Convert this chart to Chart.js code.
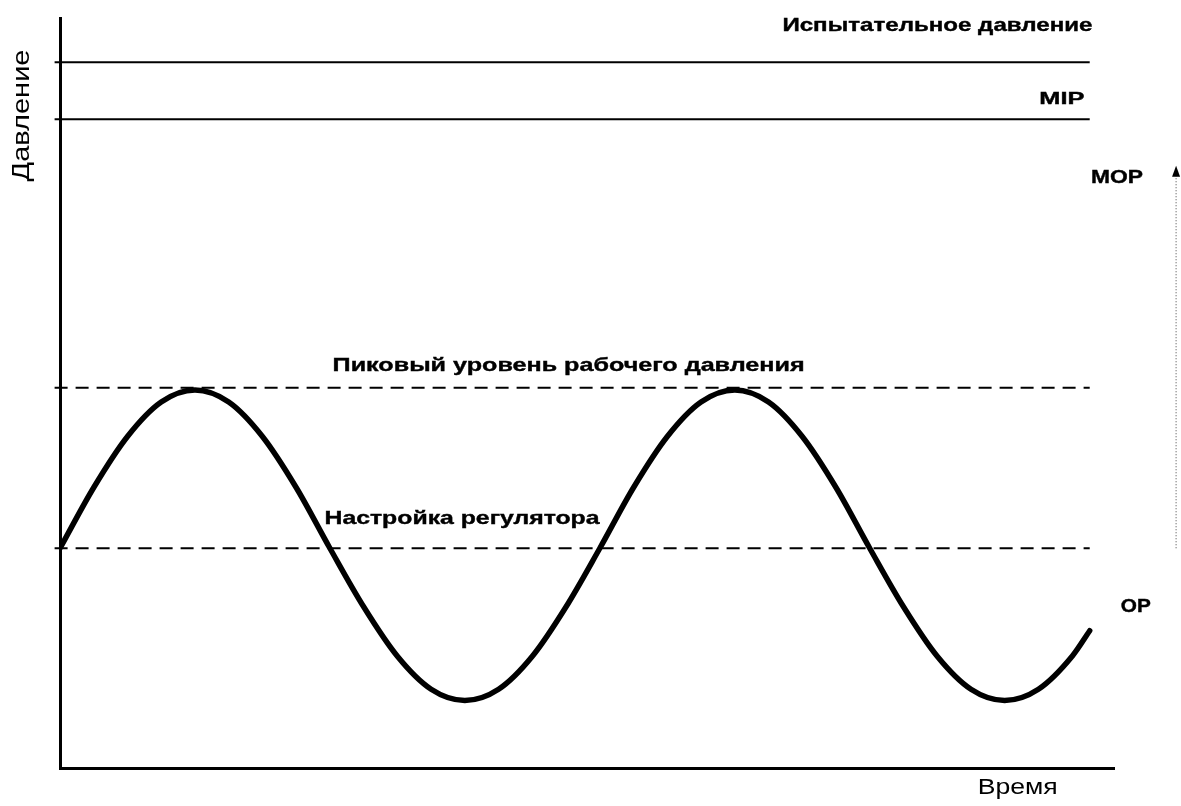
<!DOCTYPE html>
<html><head><meta charset="utf-8">
<script src="https://cdn.jsdelivr.net/npm/chart.js@4/dist/chart.umd.min.js"></script>
<style>html,body{margin:0;padding:0;background:#fff;}canvas{display:block;}</style>
</head><body>
<canvas id="c" width="1181" height="806"></canvas>
<script>
// ---- data ----
const timePoints = [0, 2.5, 5, 7.5, 10, 12.5, 15, 17.5, 20, 22.5, 25, 27.5, 30, 32.5, 35, 37.5,
                    40, 42.5, 45, 47.5, 50, 52.5, 55, 57.5, 60, 62.5, 65, 67.5, 70, 72.5, 75, 76.3];
const pressureValues = [29.3, 37.4, 44.2, 48.8, 50.4, 48.8, 44.2, 37.4, 29.3, 21.5, 14.9, 10.5, 9.0, 10.5, 14.9, 21.5,
                        29.3, 37.4, 44.2, 48.8, 50.4, 48.8, 44.2, 37.4, 29.3, 21.5, 14.9, 10.5, 9.0, 10.5, 14.9, 18.3];
const levelNames = ["Испытательное давление", "MIP", "Пиковый уровень рабочего давления", "Настройка регулятора"];
const levelValues = [94.1, 86.5, 50.7, 29.3];
const levelDashed = [false, false, true, true];
const levelStart = -0.4, levelEnd = 76.3;
const sideLabels = ["MOP", "OP"];
const sideValues = [78.7, 21.5];
const rangeArrowX = 82.7;
const rangeArrowFrom = 29.3, rangeArrowTo = 79.5;
const xTitle = "Время", yTitle = "Давление";
const xMax = 78.1, yMax = 100;

// ---- label placement (data units), kept separate from the data ----
const labelPlacement = [
  {text: levelNames[0], x: 76.5, y: 98.9, align: 'right', width: 310, font: 'bold 19px "Liberation Sans"', bold: true},
  {text: levelNames[1], x: 75.9, y: 89.1, align: 'right', width: 45,  font: 'bold 17px "Liberation Sans"', bold: true},
  {text: levelNames[2], x: 20.2, y: 53.6, align: 'left',  width: 472, font: 'bold 19px "Liberation Sans"', bold: true},
  {text: levelNames[3], x: 19.6, y: 33.2, align: 'left',  width: 275, font: 'bold 19px "Liberation Sans"', bold: true},
  {text: sideLabels[0], x: 76.4, y: sideValues[0], align: 'left', width: 52, font: 'bold 19px "Liberation Sans"', bold: true},
  {text: sideLabels[1], x: 78.6, y: sideValues[1], align: 'left', width: 30, font: 'bold 19px "Liberation Sans"', bold: true},
  {text: xTitle, x: 68.0, y: -2.7, align: 'left', width: 80, font: '22px "Liberation Sans"', bold: false}
];

function drawFitted(ctx, text, x, y, font, width, align, heavy) {
  ctx.save();
  ctx.font = font;
  const w = ctx.measureText(text).width;
  const s = width / w;
  ctx.translate(align === 'right' ? x - width : (align === 'center' ? x - width / 2 : x), y);
  ctx.scale(s, 1);
  ctx.textAlign = 'left';
  ctx.textBaseline = 'middle';
  ctx.fillStyle = '#000';
  ctx.fillText(text, 0, 0);
  if (heavy) {
    ctx.strokeStyle = '#000';
    ctx.lineWidth = 0.4;
    ctx.strokeText(text, 0, 0);
  }
  ctx.restore();
}

const labelsPlugin = {
  id: 'labels',
  afterDraw(chart) {
    const ctx = chart.ctx, xs = chart.scales.x, ys = chart.scales.y;
    labelPlacement.forEach(l => {
      drawFitted(ctx, l.text, xs.getPixelForValue(l.x), ys.getPixelForValue(l.y), l.font, l.width, l.align, l.bold);
    });
    // rotated y-axis title
    ctx.save();
    ctx.translate(chart.chartArea.left - 38, ys.getPixelForValue(87.0));
    ctx.rotate(-Math.PI / 2);
    drawFitted(ctx, yTitle, 0, 0, '24px "Liberation Sans"', 132, 'center', false);
    ctx.restore();
    // arrowhead at top of the dotted range line
    const ax = xs.getPixelForValue(rangeArrowX), ay = ys.getPixelForValue(rangeArrowTo);
    ctx.save();
    ctx.fillStyle = '#000';
    ctx.beginPath();
    ctx.moveTo(ax, ay - 6);
    ctx.lineTo(ax - 4, ay + 5);
    ctx.lineTo(ax + 4, ay + 5);
    ctx.closePath();
    ctx.fill();
    ctx.restore();
  }
};

const datasets = [{
  data: timePoints.map((t, i) => ({x: t, y: pressureValues[i]})),
  borderColor: '#000', borderWidth: 5.5, pointRadius: 0,
  cubicInterpolationMode: 'monotone', borderCapStyle: 'round', borderJoinStyle: 'round'
}];
levelValues.forEach((v, i) => {
  datasets.push({
    data: [{x: levelStart, y: v}, {x: levelEnd, y: v}],
    borderColor: '#000', borderWidth: 2, pointRadius: 0,
    borderDash: levelDashed[i] ? [13, 8] : [], clip: false
  });
});
datasets.push({
  data: [{x: rangeArrowX, y: rangeArrowFrom}, {x: rangeArrowX, y: rangeArrowTo}],
  borderColor: '#444', borderWidth: 1, borderDash: [1, 2], pointRadius: 0,
  clip: false
});

new Chart(document.getElementById('c'), {
  type: 'line',
  data: {datasets},
  options: {
    responsive: false, animation: false, devicePixelRatio: 1,
    layout: {padding: {left: 60, right: 67, top: 18, bottom: 38}},
    plugins: {legend: {display: false}, tooltip: {enabled: false}},
    scales: {
      x: {type: 'linear', min: 0, max: xMax,
          ticks: {display: false}, grid: {display: false, drawTicks: false},
          border: {display: true, color: '#000', width: 3}},
      y: {type: 'linear', min: 0, max: yMax,
          ticks: {display: false}, grid: {display: false, drawTicks: false},
          border: {display: true, color: '#000', width: 3}}
    }
  },
  plugins: [labelsPlugin]
});
</script>
</body></html>
